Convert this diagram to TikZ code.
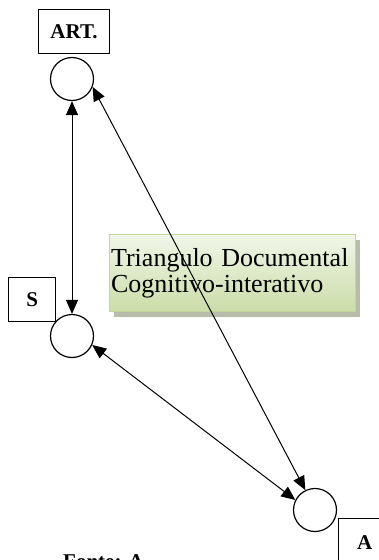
\documentclass[tikz,border=0pt]{standalone}
\usepackage{fontspec}
\setmainfont{Liberation Serif}
\usepackage{xcolor}
\usepackage{tikz}
\usetikzlibrary{arrows.meta,shadows}

\definecolor{boxtop}{RGB}{241,246,233}
\definecolor{boxbot}{RGB}{203,221,168}
\definecolor{boxline}{RGB}{196,215,155}
\definecolor{boxshade}{RGB}{184,188,170}

\begin{document}
\begin{tikzpicture}[x=1pt, y=-1pt, >={Triangle[length=14pt, width=12pt]},
  pole/.style={circle, draw, line width=1.2pt, minimum size=43pt, inner sep=0pt},
  tag/.style={draw, line width=1.2pt, minimum height=44pt, inner sep=0pt,
    font=\bfseries\fontsize{21}{24}\selectfont},
  link/.style={<->, line width=1pt}]
  \useasboundingbox (0,0) rectangle (379,560);
  % poles of the triangle
  \node[pole] (art) at (72,79) {};
  \node[pole] (s) at (72,336) {};
  \node[pole] (a) at (315,510) {};
  % labels
  \node[tag, minimum width=71pt, anchor=north west] (artlbl) at (38,9) {ART.};
  \node[tag, minimum width=47pt, anchor=north west] (slbl) at (8,277) {S};
  \node[tag, minimum width=52pt, minimum height=48pt, anchor=north west] (albl) at (338,518) {A};
  % title box
  \node[draw=boxline, line width=1.2pt, top color=boxtop, bottom color=boxbot,
    drop shadow={shadow xshift=4pt, shadow yshift=-5pt, fill=boxshade, opacity=1},
    anchor=north west, text width=243pt, inner xsep=1.5pt, minimum height=77pt,
    align=left, font=\fontsize{26}{26}\selectfont] (title) at (109,234)
    {\mbox{Triangulo Documental}\\\mbox{Cognitivo-interativo}};
  % links
  \draw[link] (art) -- (s);
  \draw[link] (art.-21) -- (a.116);
  \draw[link] (s.-24) -- (a.153);
  % source
  \node[anchor=base west, inner sep=0pt, font=\bfseries\fontsize{21}{24}\selectfont] (fonte) at (63,568) {Fonte: A};
\end{tikzpicture}
\end{document}
